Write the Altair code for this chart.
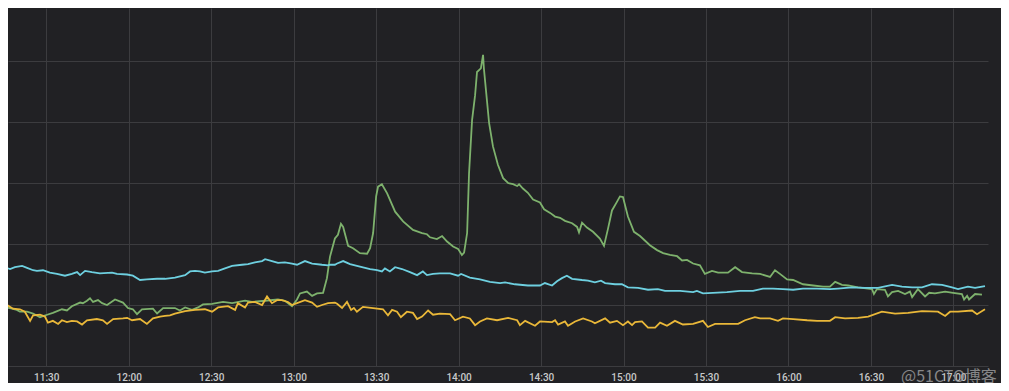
import altair as alt
import pandas as pd

# minutes after 11:00 and values (grid step = 10 units)
green_t = [13.2, 16.8, 19.3, 20.4, 23.0, 25.2, 27.7, 30.3, 32.4, 35.7, 37.5, 39.3, 42.3, 43.3, 44.8, 45.9, 47.0, 48.8,
           50.3, 52.1, 55.0, 57.9, 59.7, 61.5, 63.0, 64.8, 68.8, 70.3, 72.5, 75.0, 76.8, 78.6, 80.5, 83.0, 85.2, 87.0,
           90.3, 94.3, 97.6, 102.3, 104.8, 109.6, 114.3, 116.8, 119.4, 121.2, 122.3, 124.8, 126.7, 128.5, 130.7, 132.1,
           133.2, 135.0, 136.1, 137.2, 138.0, 139.8, 141.6, 144.1, 146.7, 147.8, 148.9, 150.0, 150.7, 152.1, 154.0,
           156.9, 159.8, 163.4, 166.7, 168.5, 169.6, 172.1, 174.0, 175.8, 178.0, 179.8, 181.2, 182.0, 183.1, 183.8,
           184.9, 186.0, 186.7, 188.1, 188.9, 189.2, 190.3, 191.1, 192.5, 194.3, 196.2, 198.0, 199.8, 201.3, 202.0,
           203.4, 205.2, 207.1, 209.6, 211.1, 213.3, 215.1, 216.9, 218.7, 221.3, 223.1, 223.8, 224.9, 226.7, 228.9,
           231.4, 232.9, 234.4, 235.8, 237.6, 238.7, 239.8, 241.6, 243.8, 246.0, 249.6, 252.2, 254.4, 256.9, 259.5,
           261.3, 263.1, 265.3, 267.8, 269.6, 272.2, 274.4, 278.0, 280.6, 283.1, 286.8, 289.7, 293.3, 295.1, 296.9,
           299.5, 301.7, 305.3, 309.0, 312.6, 315.1, 317.0, 319.5, 321.7, 325.3, 330.4, 331.1, 332.2, 335.1, 336.2,
           337.7, 339.9, 342.4, 344.2, 345.0, 347.1, 349.7, 351.2, 353.3, 357.0, 359.9, 363.1, 363.9, 365.0, 365.7,
           367.9, 370.4]
green_v = [9.7, 9.5, 9.2, 8.9, 8.9, 8.6, 8.0, 8.4, 8.7, 9.3, 9.1, 9.8, 10.4, 10.3, 10.7, 11.1, 10.5, 10.8,
           10.3, 10.0, 10.9, 10.4, 9.5, 9.3, 8.5, 9.3, 9.4, 8.6, 9.5, 9.5, 9.5, 9.1, 9.6, 9.2, 9.6, 10.1,
           10.2, 10.5, 10.3, 10.7, 10.5, 10.7, 10.9, 10.7, 9.8, 10.9, 11.9, 12.2, 11.5, 11.9, 12.0, 14.4,
           17.9, 20.9, 21.5, 23.3, 22.8, 19.7, 19.3, 18.5, 18.4, 19.3, 21.8, 27.8, 29.4, 29.8, 28.3,
           25.3, 23.7, 22.3, 21.8, 21.6, 21.1, 20.8, 21.3, 20.4, 19.6, 19.2, 18.2, 18.6, 21.8, 31.6,
           40.3, 44.4, 48.2, 48.8, 51.0, 48.8, 43.6, 39.8, 36.0, 33.0, 30.8, 30.0, 29.8, 29.5, 29.8,
           29.1, 28.4, 27.3, 26.8, 25.7, 25.1, 24.5, 24.3, 23.8, 23.4, 22.8, 21.9, 23.5, 22.7, 22.0,
           20.9, 19.7, 22.6, 25.5, 26.9, 27.8, 27.7, 24.5, 22.0, 21.3, 19.8, 19.0, 18.5, 18.2, 18.0,
           17.3, 17.4, 16.8, 16.5, 15.1, 15.6, 15.3, 15.3, 16.2, 15.4, 15.2, 15.1, 14.6, 15.7, 15.1,
           14.2, 14.1, 13.4, 13.2, 13.0, 13.0, 13.8, 13.3, 13.2, 12.9, 12.6, 11.8, 12.6, 12.5, 11.4,
           12.1, 12.3, 11.8, 12.2, 11.3, 12.6, 11.4, 12.0, 11.9, 12.2, 12.0, 11.8, 10.9, 11.5, 10.9,
           11.8, 11.7]

cyan_t = [13.2, 16.8, 18.6, 21.2, 23.0, 25.2, 26.6, 28.8, 31.3, 33.9, 36.8, 39.3, 41.2, 42.3, 44.1, 46.6, 49.5, 53.9,
          55.7, 59.4, 61.5, 64.1, 66.6, 70.3, 73.2, 76.8, 80.5, 82.3, 84.1, 85.9, 87.7, 90.3, 92.5, 95.0, 97.6, 101.2,
          103.4, 105.9, 108.5, 109.6, 112.1, 114.3, 116.8, 119.4, 121.2, 124.1, 126.7, 130.3, 132.5, 133.2, 135.0,
          135.8, 138.0, 140.5, 144.1, 147.8, 150.3, 152.1, 153.2, 155.0, 156.9, 159.4, 162.3, 164.9, 167.0, 168.5,
          170.7, 173.2, 176.9, 179.8, 180.9, 184.1, 187.8, 191.4, 195.1, 196.9, 200.5, 205.2, 209.6, 211.4, 214.0,
          215.8, 217.6, 219.4, 221.3, 224.9, 227.1, 229.6, 231.8, 233.3, 236.9, 239.4, 241.6, 245.3, 248.9, 252.5,
          255.1, 256.9, 260.6, 265.3, 266.7, 268.9, 272.5, 277.6, 282.4, 287.1, 290.7, 294.4, 298.0, 301.7, 305.3,
          310.4, 315.1, 318.0, 323.1, 327.9, 332.6, 337.7, 341.3, 345.0, 348.6, 352.2, 355.9, 359.5, 361.7, 365.3,
          367.9, 371.5]
cyan_v = [16.4, 15.9, 16.2, 16.4, 16.1, 15.7, 15.6, 15.7, 15.3, 15.1, 14.8, 15.1, 15.4, 14.9, 15.6, 15.4, 15.2, 15.3,
          15.1, 15.0, 14.8, 14.1, 14.2, 14.3, 14.3, 14.5, 14.9, 15.5, 15.6, 15.5, 15.3, 15.5, 15.6, 16.0, 16.4, 16.6,
          16.7, 17.0, 17.2, 17.5, 17.2, 16.9, 17.0, 16.8, 16.6, 17.2, 16.8, 16.6, 16.5, 16.6, 16.6,
          16.8, 17.2, 16.7, 16.3, 15.9, 15.7, 15.5, 16.0, 15.5, 16.2, 15.9, 15.4, 14.9, 15.5, 14.9,
          15.1, 15.2, 15.2, 14.8, 15.1, 14.5, 14.2, 13.8, 13.6, 13.7, 13.4, 13.2, 13.2, 13.6, 13.2,
          13.9, 14.4, 14.8, 14.3, 14.1, 14.0, 13.7, 14.0, 13.6, 13.4, 13.4, 12.9, 12.8, 12.5, 12.6,
          12.3, 12.3, 12.3, 12.1, 12.3, 11.9, 12.0, 12.1, 12.3, 12.3, 12.7, 12.7, 12.6, 12.5, 12.7,
          12.7, 12.6, 12.7, 12.9, 12.8, 12.8, 13.3, 13.0, 12.9, 12.9, 13.4, 13.3, 12.9, 12.6, 13.0,
          12.8, 13.1]

yellow_t = [13.2, 15.7, 17.9, 20.4, 22.2, 24.1, 25.2, 27.7, 29.5, 30.6, 32.4, 34.3, 35.7, 37.5, 39.3, 41.2, 43.0, 44.8,
            48.4, 50.6, 52.1, 54.3, 57.9, 59.4, 61.2, 64.1, 66.6, 68.8, 71.4, 73.2, 75.0, 76.8, 80.5, 84.1, 87.7, 90.3,
            92.5, 96.1, 98.7, 99.7, 102.3, 103.4, 105.9, 108.5, 110.3, 112.1, 113.9, 115.7, 117.9, 119.4, 121.2, 124.1,
            126.7, 128.5, 130.3, 132.5, 135.0, 135.8, 137.6, 139.4, 140.9, 141.9, 143.0, 145.2, 148.9, 152.5, 154.3,
            155.8, 157.6, 159.0, 161.2, 163.4, 164.9, 166.7, 168.9, 170.7, 173.2, 176.9, 178.7, 181.6, 184.1, 186.0,
            187.8, 190.3, 194.0, 198.0, 201.3, 202.3, 204.2, 207.8, 209.6, 214.0, 215.1, 216.2, 218.7, 219.8, 222.4,
            225.3, 228.5, 229.6, 233.3, 235.1, 237.6, 239.8, 241.6, 243.1, 244.2, 246.7, 248.9, 251.5, 253.3, 255.8,
            258.7, 261.6, 265.3, 268.9, 270.7, 273.3, 277.6, 281.7, 284.2, 287.8, 289.7, 293.3, 296.2, 298.0, 301.7,
            306.8, 310.4, 315.1, 317.0, 320.6, 325.3, 329.0, 334.0, 338.8, 343.5, 348.6, 354.4, 357.0, 358.8, 361.7,
            366.8, 368.6, 371.5]
yellow_v = [9.6, 10.0, 9.4, 9.3, 8.9, 7.4, 8.3, 8.4, 8.1, 7.1, 7.4, 6.9, 7.5, 7.2, 7.4, 7.3, 6.8, 7.5,
            7.7, 7.5, 6.9, 7.7, 7.8, 7.9, 7.5, 7.7, 6.9, 7.8, 8.1, 8.2, 8.3, 8.6, 9.0, 9.2, 9.3, 8.9,
            9.6, 9.8, 9.2, 10.3, 9.6, 10.4, 10.5, 10.0, 11.4, 10.3, 10.8, 10.8, 10.5, 10.0, 10.3, 10.8,
            10.4, 9.7, 10.0, 10.3, 10.4, 10.2, 9.5, 10.5, 9.2, 9.5, 8.9, 9.7, 9.5, 9.3, 8.3,
            9.2, 8.9, 8.0, 8.9, 8.7, 7.7, 8.1, 9.1, 8.4, 8.6, 8.5, 7.5, 8.1, 7.8, 6.7,
            7.3, 7.8, 7.5, 7.9, 7.5, 6.7, 7.4, 6.6, 7.3, 7.2, 7.5, 6.8, 7.3, 6.6, 7.3,
            7.8, 7.3, 7.0, 7.8, 7.1, 7.4, 6.7, 7.3, 6.7, 7.2, 7.3, 6.3, 6.3, 7.1, 6.6,
            7.4, 6.8, 6.9, 7.4, 6.4, 6.9, 6.9, 6.9, 7.5, 8.0, 7.8, 7.8, 7.4, 7.8, 7.7,
            7.5, 7.4, 7.4, 8.0, 7.8, 7.9, 8.1, 8.9, 8.6, 8.7, 9.0, 8.9, 8.2, 8.9, 8.9,
            9.1, 8.5, 9.3]

tick_hours = [(11, 30), (12, 0), (12, 30), (13, 0), (13, 30), (14, 0), (14, 30),
              (15, 0), (15, 30), (16, 0), (16, 30), (17, 0)]
grid_values = [0, 10, 20, 30, 40, 50]
watermark = ["@51CTO博客"]

BASE = pd.Timestamp("2024-01-01 11:00:00")


def frame(ts, vs):
    times = [(BASE + pd.to_timedelta(round(m * 60), unit="s")).strftime("%Y-%m-%dT%H:%M:%S") for m in ts]
    return pd.DataFrame({"time": times, "value": vs})


def dt(h, m, s=0):
    return alt.DateTime(year=2024, month=1, date=1, hours=h, minutes=m, seconds=s)


x_enc = alt.X(
    "time:T",
    scale=alt.Scale(domain=[dt(11, 16, 4), dt(17, 12, 36)]),
    axis=alt.Axis(values=[dt(h, m) for h, m in tick_hours], format="%H:%M", title=None,
                  domain=False, ticks=False, tickSize=0, labelPadding=6, labelOverlap=False,
                  labelFlush=False, grid=True),
)
y_enc = alt.Y(
    "value:Q",
    scale=alt.Scale(domain=[0, 58.69], nice=False, zero=False),
    axis=alt.Axis(values=grid_values, labels=False, ticks=False, tickSize=0, domain=False,
                  title=None, grid=True),
)


def line(ts, vs, color):
    return alt.Chart(frame(ts, vs)).mark_line(color=color, strokeWidth=1.8, clip=True,
                                              interpolate="linear").encode(x=x_enc, y=y_enc)


wm = alt.Chart(pd.DataFrame({"t": watermark})).mark_text(
    align="left", baseline="alphabetic", font="Noto Sans CJK SC", fontSize=16,
    color="#a0a0a2", opacity=0.8,
).encode(text="t:N", x=alt.value(893), y=alt.value(374))

chart = alt.layer(
    line(green_t, green_v, "#7eb26d"),
    line(cyan_t, cyan_v, "#6ed0e0"),
    line(yellow_t, yellow_v, "#eab839"),
    wm,
).properties(
    width=980, height=358,
    autosize=alt.AutoSizeParams(type="none"),
    padding={"left": 0, "top": 0, "right": 13, "bottom": 17},
    background="#212124",
).configure_view(strokeWidth=0).configure_axis(
    gridColor="#3c3c3f", gridWidth=1, labelColor="#c8c9ca", labelFont="Roboto",
    labelFontSize=10, labelFontWeight=500,
)

chart.save("out.html", embed_options={"renderer": "svg", "actions": False})
